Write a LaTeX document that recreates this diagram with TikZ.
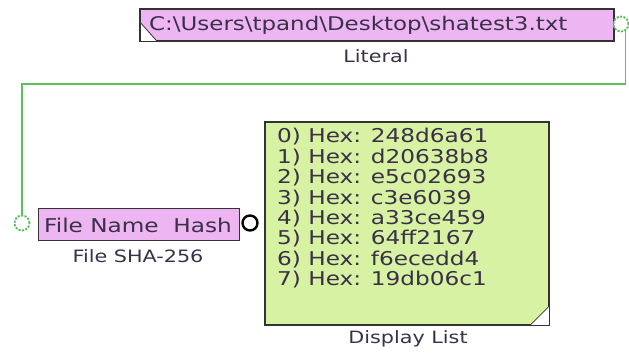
\documentclass[tikz,border=0pt]{standalone}
\usepackage{fontspec}
\setmainfont{DejaVu Sans}[FakeStretch=1.22]
\usetikzlibrary{positioning}
\definecolor{BlockPink}{HTML}{EDB5F2}
\definecolor{ListGreen}{HTML}{D6F2A2}
\definecolor{WireGreen}{HTML}{5FBF5F}
\definecolor{TextDark}{HTML}{3A3048}
\tikzset{
  blockbox/.style={
    draw=black!80,fill=BlockPink,line width=1.2pt,
    inner sep=0pt,anchor=north west
  },
  listbox/.style={
    draw=black!80,fill=ListGreen,line width=1.2pt,
    inner sep=0pt,anchor=north west
  },
  blocktext/.style={
    font=\fontsize{19}{21}\selectfont,text=TextDark,inner sep=0pt
  },
  caption/.style={
    font=\fontsize{17}{20}\selectfont,text=TextDark,inner sep=0pt
  },
  pinin/.style={
    circle,draw=WireGreen,dash pattern=on 2.2pt off 1.3pt,line width=1.8pt,fill=white,
    minimum size=15pt,inner sep=0pt
  },
  pinout/.style={
    circle,draw=black,line width=2.4pt,fill=white,
    minimum size=15pt,inner sep=0pt
  },
  wire/.style={draw=WireGreen,line width=1.3pt},
}
\begin{document}
\begin{tikzpicture}[x=1pt,y=-1pt]
  \useasboundingbox[fill=white] (0,0) rectangle (629,353);
  % literal block
  \node[blockbox,minimum width=473pt,minimum height=31pt] (lit) at (140,9) {};
  \fill[white] (lit.south west) -- ++(0,-19) -- ++(17,19) -- cycle;
  \draw[black!80,line width=0.8pt] ([yshift=19pt]lit.south west) -- ++(17,19);
  \draw[black!80,line width=1.2pt] (lit.north west) rectangle (lit.south east);
  \node[blocktext,anchor=west,font=\fontsize{18.8}{21}\selectfont] (littext) at (149,25) {C:\textbackslash Users\textbackslash tpand\textbackslash Desktop\textbackslash shatest3.txt};
  \node[caption] (litcap) at (376,56) {Literal};
  \node[pinin] (litout) at (621,24) {};
  % file sha-256 block
  \node[blockbox,minimum width=201pt,minimum height=32pt] (sha) at (38,208) {};
  \node[blocktext,anchor=west] (shain) at (44,225) {File Name};
  \node[blocktext,anchor=east] (shaout) at (232,225) {Hash};
  \node[caption] (shacap) at (138,256) {File SHA-256};
  \node[pinin] (fnin) at (22,223) {};
  \node[pinout] (hashout) at (250,223) {};
  % wire from literal to file name
  \coordinate (wirey) at (0,84);
  \draw[wire] (litout.-60) |- (wirey -| fnin) -- (fnin.north);
  % display list
  \node[listbox,minimum width=283pt,minimum height=202pt] (disp) at (265,122) {};
  \fill[white] (disp.south east) -- ++(0,-19) -- ++(-19,19) -- cycle;
  \draw[black!80,line width=0.8pt] ([yshift=19pt]disp.south east) -- ++(-19,19);
  \draw[black!80,line width=1.2pt] (disp.north west) rectangle (disp.south east);
  \foreach \idx/\val in {0/248d6a61,1/d20638b8,2/e5c02693,3/c3e6039,4/a33ce459,5/64ff2167,6/f6ecedd4,7/19db06c1}
    \node[blocktext,anchor=west] (item\idx) at (277,137+20.4*\idx) {\idx) Hex: \val};
  \node[caption] (dispcap) at (408,339) {Display List};
\end{tikzpicture}
\end{document}
